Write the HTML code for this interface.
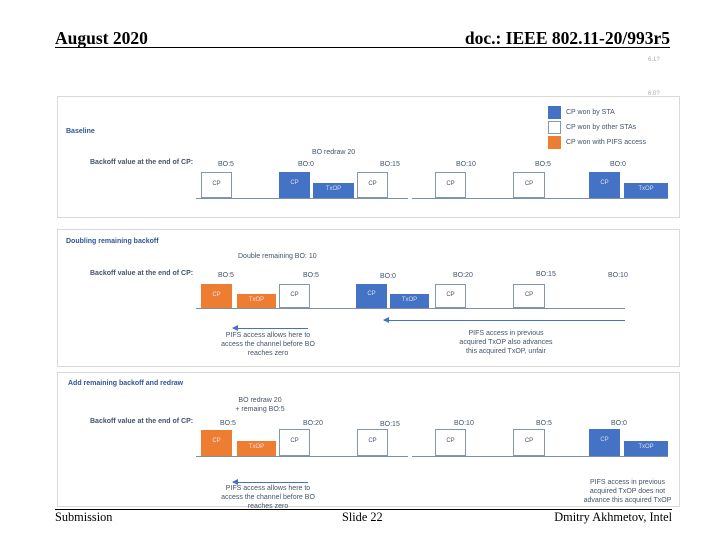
<!DOCTYPE html>
<html><head><meta charset="utf-8"><style>
body{margin:0;width:720px;height:540px;background:#fff;position:relative;overflow:hidden;font-family:"Liberation Sans",sans-serif}
div{position:absolute}
.hdr{font-family:"Liberation Serif",serif;font-size:17.5px;font-weight:bold;color:#000;white-space:nowrap}
.ftr{font-family:"Liberation Serif",serif;font-size:12.3px;color:#000;white-space:nowrap}
.panel{border:1px solid #d9d9d9;background:#fff}
.t{font-size:7px;color:#44546a;white-space:nowrap;line-height:9px}
.ti{font-size:7px;color:#2f5597;font-weight:bold;white-space:nowrap}
.w{background:#fff;border:1px solid #8497b0;box-sizing:border-box;font-size:6px;color:#44546a;text-align:center}
.b{background:#4472c4;font-size:6px;color:#dde;text-align:center}
.o{background:#ed7d31;font-size:6px;color:#fde;text-align:center}
.ln{background:#7f8fa6;height:1px}
.ar{height:1px;background:#4472c4}
.ar::before{content:"";position:absolute;left:-1px;top:-3px;border-right:6px solid #4472c4;border-top:3.5px solid transparent;border-bottom:3.5px solid transparent}
.c{text-align:center}
</style></head><body>
<div class="hdr" style="left:55px;top:28px">August 2020</div>
<div class="hdr" style="right:50px;top:28px">doc.: IEEE 802.11-20/993r5</div>
<div style="left:55px;top:47px;width:615px;height:1px;background:#000"></div>
<div class="t" style="left:648px;top:56px;color:#aaa;font-size:6px">6.1?</div>
<div class="t" style="left:648px;top:90px;color:#aaa;font-size:6px">6.0?</div>

<!-- Panel 1 -->
<div class="panel" style="left:57px;top:96px;width:621px;height:120px"></div>
<div style="left:548px;top:106px;width:13px;height:13px;background:#4472c4"></div>
<div class="t" style="left:566px;top:108px">CP won by STA</div>
<div style="left:548px;top:121px;width:13px;height:13px;border:1px solid #8497b0;box-sizing:border-box"></div>
<div class="t" style="left:566px;top:123px">CP won by other STAs</div>
<div style="left:548px;top:136px;width:13px;height:13px;background:#ed7d31"></div>
<div class="t" style="left:566px;top:138px">CP won with PIFS access</div>
<div class="ti" style="left:66px;top:128px">Baseline</div>
<div class="t" style="left:312px;top:148px">BO redraw 20</div>
<div class="ti" style="left:90px;top:159px;color:#44546a">Backoff value at the end of CP:</div>
<div class="t" style="left:218px;top:160px">BO:5</div>
<div class="t" style="left:298px;top:160px">BO:0</div>
<div class="t" style="left:380px;top:160px">BO:15</div>
<div class="t" style="left:456px;top:160px">BO:10</div>
<div class="t" style="left:535px;top:160px">BO:5</div>
<div class="t" style="left:610px;top:160px">BO:0</div>
<div class="w" style="left:201px;top:172px;width:31px;height:26px;padding-top:8px">CP</div>
<div class="b" style="left:279px;top:172px;width:31px;height:26px;padding-top:8px;box-sizing:border-box">CP</div>
<div class="b" style="left:313px;top:183px;width:41px;height:15px;padding-top:3px;box-sizing:border-box">TxOP</div>
<div class="w" style="left:357px;top:172px;width:31px;height:26px;padding-top:8px">CP</div>
<div class="w" style="left:435px;top:172px;width:31px;height:26px;padding-top:8px">CP</div>
<div class="w" style="left:513px;top:172px;width:32px;height:26px;padding-top:8px">CP</div>
<div class="b" style="left:589px;top:172px;width:31px;height:26px;padding-top:8px;box-sizing:border-box">CP</div>
<div class="b" style="left:624px;top:183px;width:44px;height:15px;padding-top:3px;box-sizing:border-box">TxOP</div>
<div class="ln" style="left:196px;top:198px;width:212px"></div>
<div class="ln" style="left:412px;top:198px;width:256px"></div>

<!-- Panel 2 -->
<div class="panel" style="left:57px;top:229px;width:621px;height:136px"></div>
<div class="ti" style="left:66px;top:238px">Doubling remaining backoff</div>
<div class="ti" style="left:238px;top:253px;font-weight:normal;color:#44546a">Double remaining BO: 10</div>
<div class="ti" style="left:90px;top:270px;color:#44546a">Backoff value at the end of CP:</div>
<div class="t" style="left:218px;top:271px">BO:5</div>
<div class="t" style="left:303px;top:271px">BO:5</div>
<div class="t" style="left:380px;top:272px">BO:0</div>
<div class="t" style="left:453px;top:271px">BO:20</div>
<div class="t" style="left:536px;top:270px">BO:15</div>
<div class="t" style="left:608px;top:271px">BO:10</div>
<div class="o" style="left:201px;top:284px;width:31px;height:24px;padding-top:8px;box-sizing:border-box">CP</div>
<div class="o" style="left:237px;top:294px;width:39px;height:14px;padding-top:3px;box-sizing:border-box">TxOP</div>
<div class="w" style="left:279px;top:284px;width:31px;height:24px;padding-top:7px">CP</div>
<div class="b" style="left:356px;top:284px;width:31px;height:24px;padding-top:7px;box-sizing:border-box">CP</div>
<div class="b" style="left:390px;top:294px;width:39px;height:14px;padding-top:3px;box-sizing:border-box">TxOP</div>
<div class="w" style="left:435px;top:284px;width:31px;height:24px;padding-top:7px">CP</div>
<div class="w" style="left:513px;top:284px;width:32px;height:24px;padding-top:7px">CP</div>
<div class="ln" style="left:196px;top:308px;width:429px"></div>
<div class="ar" style="left:233px;top:328px;width:75px"></div>
<div class="t c" style="left:208px;top:331px;width:120px">PIFS access allows here to<br>access the channel before BO<br>reaches zero</div>
<div class="ar" style="left:384px;top:320px;width:241px"></div>
<div class="t c" style="left:446px;top:329px;width:120px">PIFS access in previous<br>acquired TxOP also advances<br>this acquired TxOP, unfair</div>

<!-- Panel 3 -->
<div class="panel" style="left:57px;top:372px;width:621px;height:133px"></div>
<div class="ti" style="left:68px;top:380px">Add remaining backoff and redraw</div>
<div class="t c" style="left:230px;top:396px;width:60px">BO redraw 20<br>+ remaing BO:5</div>
<div class="ti" style="left:90px;top:418px;color:#44546a">Backoff value at the end of CP:</div>
<div class="t" style="left:220px;top:419px">BO:5</div>
<div class="t" style="left:303px;top:419px">BO:20</div>
<div class="t" style="left:380px;top:420px">BO:15</div>
<div class="t" style="left:454px;top:419px">BO:10</div>
<div class="t" style="left:536px;top:419px">BO:5</div>
<div class="t" style="left:611px;top:419px">BO:0</div>
<div class="o" style="left:201px;top:430px;width:31px;height:26px;padding-top:8px;box-sizing:border-box">CP</div>
<div class="o" style="left:237px;top:441px;width:39px;height:15px;padding-top:3px;box-sizing:border-box">TxOP</div>
<div class="w" style="left:279px;top:429px;width:31px;height:27px;padding-top:8px">CP</div>
<div class="w" style="left:357px;top:429px;width:31px;height:27px;padding-top:8px">CP</div>
<div class="w" style="left:435px;top:429px;width:31px;height:27px;padding-top:8px">CP</div>
<div class="w" style="left:513px;top:429px;width:32px;height:27px;padding-top:8px">CP</div>
<div class="b" style="left:589px;top:429px;width:31px;height:27px;padding-top:8px;box-sizing:border-box">CP</div>
<div class="b" style="left:624px;top:441px;width:44px;height:15px;padding-top:3px;box-sizing:border-box">TxOP</div>
<div class="ln" style="left:196px;top:456px;width:212px"></div>
<div class="ln" style="left:412px;top:456px;width:256px"></div>
<div class="ar" style="left:233px;top:482px;width:75px"></div>
<div class="t c" style="left:208px;top:484px;width:120px">PIFS access allows here to<br>access the channel before BO<br>reaches zero</div>
<div class="t c" style="left:570px;top:478px;width:115px">PIFS access in previous<br>acquired TxOP does not<br>advance this acquired TxOP</div>

<!-- Footer -->
<div style="left:55px;top:509px;width:617px;height:1px;background:#000"></div>
<div class="ftr" style="left:55px;top:510px">Submission</div>
<div class="ftr" style="left:342px;top:510px">Slide 22</div>
<div class="ftr" style="right:48px;top:510px">Dmitry Akhmetov, Intel</div>
</body></html>
